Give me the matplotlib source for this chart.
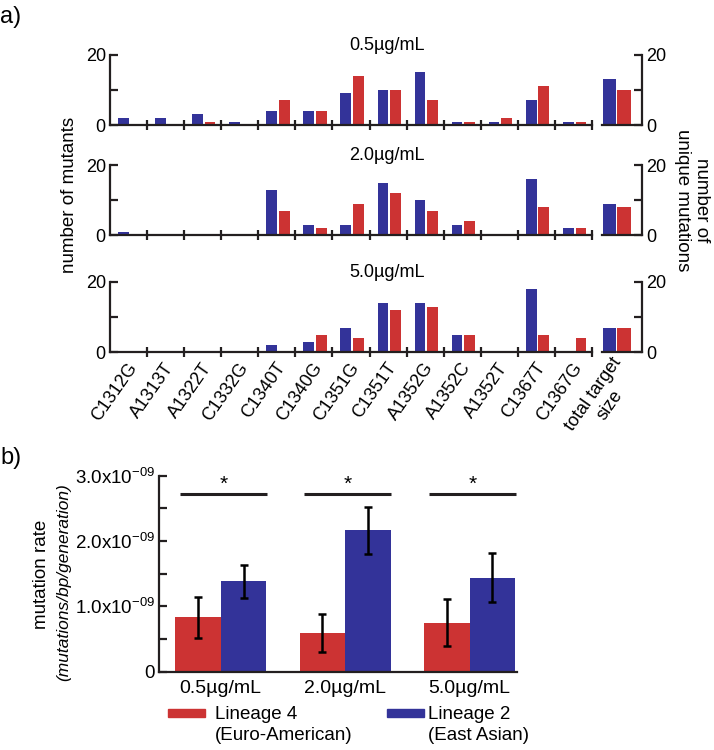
import numpy as np
import matplotlib
matplotlib.use('Agg')
import matplotlib.pyplot as plt
from matplotlib.patches import Rectangle

plt.rcParams['font.family'] = ['Liberation Sans', 'DejaVu Sans']
plt.rcParams['mathtext.fontset'] = 'custom'
plt.rcParams['mathtext.rm'] = 'Liberation Sans'
plt.rcParams['mathtext.it'] = 'Liberation Sans:italic'

# panel a data: mutant counts per mutation (blue = Lineage 2, red = Lineage 4)
mutations = ['C1312G', 'A1313T', 'A1322T', 'C1332G', 'C1340T', 'C1340G', 'C1351G',
             'C1351T', 'A1352G', 'A1352C', 'A1352T', 'C1367T', 'C1367G']
concs = ['0.5µg/mL', '2.0µg/mL', '5.0µg/mL']
l2_05 = [2, 2, 3, 1, 4, 4, 9, 10, 15, 1, 1, 7, 1]
l4_05 = [0, 0, 1, 0, 7, 4, 14, 10, 7, 1, 2, 11, 1]
l2_20 = [1, 0, 0, 0, 13, 3, 3, 15, 10, 3, 0, 16, 2]
l4_20 = [0, 0, 0, 0, 7, 2, 9, 12, 7, 4, 0, 8, 2]
l2_50 = [0, 0, 0, 0, 2, 3, 7, 14, 14, 5, 0, 18, 0]
l4_50 = [0, 0, 0, 0, 0, 5, 4, 12, 13, 5, 0, 5, 4]
l2_total = [13, 9, 7]
l4_total = [10, 8, 7]

# panel b data: mutation rate (x1e-9) with error
l4_rate = [0.83, 0.59, 0.75]
l4_err = [0.31, 0.29, 0.36]
l2_rate = [1.38, 2.16, 1.44]
l2_err = [0.25, 0.36, 0.37]

BLUE = '#333399'
RED = '#cc3333'
INK = '#231f20'
W, H = 714, 750

def box(l, t, r, b):
    return [l / W, 1 - b / H, (r - l) / W, (b - t) / H]

fig = plt.figure(figsize=(7.14, 7.5), dpi=100)

rows = [(l2_05, l4_05, 55, 125), (l2_20, l4_20, 165, 235), (l2_50, l4_50, 282, 352)]
x = np.arange(len(mutations))
for i, (l2, l4, top, bot) in enumerate(rows):
    ax = fig.add_axes(box(110, top, 592, bot))
    ax.bar(x + 0.36, l2, 0.29, color=BLUE)
    ax.bar(x + 0.70, l4, 0.29, color=RED)
    ax.set_xlim(0, 13); ax.set_ylim(0, 20)
    for s in ['top', 'right']:
        ax.spines[s].set_visible(False)
    for s in ['left', 'bottom']:
        ax.spines[s].set_linewidth(1.6); ax.spines[s].set_color(INK)
    ax.set_yticks([0, 10, 20]); ax.set_yticklabels(['0', '', '20'])
    ax.tick_params(axis='y', direction='in', length=6, width=1.6, labelsize=13, pad=3, color=INK)
    ax.set_xticks(np.arange(1, 14)); ax.set_xticklabels([])
    ax.tick_params(axis='x', direction='inout', length=7, width=1.6, color=INK)
    if i == 2:
        ax.set_xticks(x + 0.64, minor=True)
        ax.set_xticklabels(mutations, minor=True, rotation=55, ha='right', va='center',
                           rotation_mode='anchor', fontsize=13)
        ax.tick_params(axis='x', which='minor', length=0, pad=9)

    axt = fig.add_axes(box(602, top, 642, bot))
    axt.bar(0.18, l2_total[i], 0.33, color=BLUE)
    axt.bar(0.55, l4_total[i], 0.33, color=RED)
    axt.set_xlim(0, 1); axt.set_ylim(0, 20)
    for s in ['top', 'left']:
        axt.spines[s].set_visible(False)
    for s in ['right', 'bottom']:
        axt.spines[s].set_linewidth(1.6); axt.spines[s].set_color(INK)
    axt.yaxis.tick_right()
    axt.set_yticks([0, 10, 20]); axt.set_yticklabels(['0', '', '20'])
    axt.tick_params(axis='y', direction='in', length=6, width=1.6, labelsize=13, pad=3, color=INK)
    axt.set_xticks([])
    if i == 2:
        axt.set_xticks([0.6])
        axt.set_xticklabels(['total target\nsize'], rotation=55, ha='right', va='center',
                            rotation_mode='anchor', fontsize=13, multialignment='center')
        axt.tick_params(axis='x', length=0, pad=9)

    fig.text(387 / W, 1 - (top - 1) / H, concs[i], ha='center', va='bottom', fontsize=13)

fig.text(70 / W, 1 - 195 / H, 'number of mutants', rotation=90, ha='center', va='center', fontsize=13.5)
fig.text(692 / W, 1 - 200 / H, 'number of\nunique mutations', rotation=-90, ha='center',
         va='center', multialignment='center', fontsize=13.5)
fig.text(0, 1 - 17 / H, 'a)', fontsize=17, va='center')
fig.text(0, 1 - 458 / H, 'b)', fontsize=17, va='center')

# panel b
axb = fig.add_axes(box(159, 475.5, 517, 671.7))
g = np.arange(3)
ekw = dict(ecolor='black', elinewidth=1.8, capsize=3, capthick=1.8)
axb.bar(g - 0.183, l4_rate, 0.366, color=RED, yerr=l4_err, error_kw=ekw)
axb.bar(g + 0.183, l2_rate, 0.366, color=BLUE, yerr=l2_err, error_kw=ekw)
for gi in g:
    axb.plot([gi - 0.33, gi + 0.37], [2.71, 2.71], color=INK, lw=2.2, solid_capstyle='butt')
    axb.text(gi + 0.02, 2.72, '*', ha='center', va='bottom', fontsize=15)
axb.set_xlim(-0.496, 2.38); axb.set_ylim(0, 3)
for s in ['top', 'right']:
    axb.spines[s].set_visible(False)
for s in ['left', 'bottom']:
    axb.spines[s].set_linewidth(1.6); axb.spines[s].set_color(INK)
axb.set_yticks(np.arange(0, 3.01, 0.5))
axb.set_yticklabels(['0', '', '1.0x10$^{-09}$', '', '2.0x10$^{-09}$', '', '3.0x10$^{-09}$'])
axb.tick_params(axis='y', direction='in', length=6, width=1.6, labelsize=13.5, pad=3, color=INK)
axb.set_xticks(g); axb.set_xticklabels(concs)
axb.tick_params(axis='x', length=0, labelsize=14, pad=6)

fig.text(41 / W, 1 - 574 / H, 'mutation rate', rotation=90, ha='center', va='center', fontsize=13.5)
fig.text(63.5 / W, 1 - 582 / H, '(mutations/bp/generation)', rotation=90, ha='center',
         va='center', fontsize=12.5, style='italic')

# legend
for (x0, col, l1, l2txt) in [(168, RED, 'Lineage 4', '(Euro-American)'),
                             (387, BLUE, 'Lineage 2', '(East Asian)')]:
    fig.add_artist(Rectangle((x0 / W, 1 - 717 / H), 37 / W, 8 / H, color=col,
                             transform=fig.transFigure))
    tx = x0 + 47 if col == RED else x0 + 41
    fig.text(tx / W, 1 - 719 / H, l1, ha='left', va='baseline', fontsize=13.5)
    fig.text(tx / W, 1 - 740 / H, l2txt, ha='left', va='baseline', fontsize=13.5)

fig.savefig('out.png', dpi=100)
